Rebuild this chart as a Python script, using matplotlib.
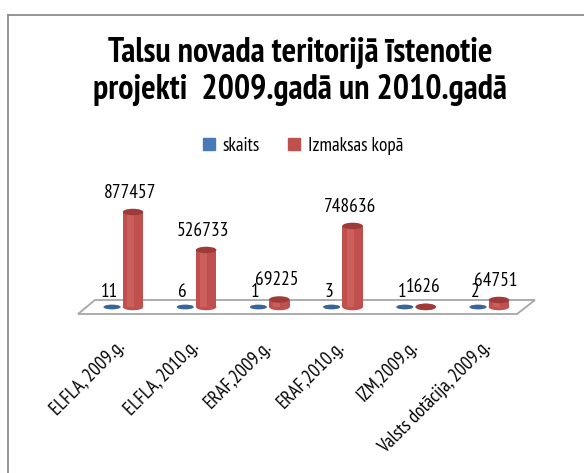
import matplotlib
matplotlib.use("Agg")
import matplotlib.pyplot as plt
from matplotlib.patches import Ellipse, Polygon
from matplotlib.lines import Line2D
from matplotlib.textpath import TextPath
from matplotlib.font_manager import FontProperties

FAM = ['PT Sans Narrow', 'DejaVu Sans']
plt.rcParams['font.family'] = FAM

categories = ["ELFLA, 2009.g.", "ELFLA, 2010.g.", "ERAF,2009.g.", "ERAF,2010.g.",
              "IZM,2009.g.", "Valsts dotācija, 2009.g."]
skaits = [11, 6, 1, 3, 1, 2]
izmaksas = [877457, 526733, 69225, 748636, 1626, 64751]
series_names = ["skaits", "Izmaksas kopā"]
title = "Talsu novada teritorijā īstenotie\nprojekti  2009.gadā un 2010.gadā"

W, H, DPI = 584, 473, 100


def fit_size(text, target_px, weight='normal'):
    fp = FontProperties(family=FAM, weight=weight, size=100)
    w = TextPath((0, 0), text, prop=fp).get_extents().width
    return 100 * target_px * 72 / DPI / w


title_fs = fit_size("Talsu novada teritorijā īstenotie", 382, 'bold')
legend_fs = fit_size("Izmaksas kopā", 93)
label_fs = fit_size("877457", 50)
tick_fs = fit_size("Valsts dotācija, 2009.g.", 150)

fig = plt.figure(figsize=(W / DPI, H / DPI), dpi=DPI)

px_per_unit_x = 73.2
x0_px = 122.5
ax_left_px = x0_px - px_per_unit_x * 1.0
ax_right_px = x0_px + px_per_unit_x * 6.0
base_px = 307.0
px_per_val = 95.0 / 877457.0
ax_bottom_px = 330.0
ax_top_px = 180.0
ymin = -(ax_bottom_px - base_px) / px_per_val
ymax = (base_px - ax_top_px) / px_per_val

ax = fig.add_axes([ax_left_px / W, 1 - ax_bottom_px / H,
                   (ax_right_px - ax_left_px) / W, (ax_bottom_px - ax_top_px) / H])
ax.set_xlim(-1, 6)
ax.set_ylim(ymin, ymax)
for s in ax.spines.values():
    s.set_visible(False)
ax.set_yticks([])
ax.patch.set_alpha(0)


def vpx(p):
    return p / px_per_val


floor = Polygon([(-0.608, vpx(-7)), (5.39, vpx(-7)), (5.635, vpx(7)), (-0.376, vpx(7))],
                closed=True, facecolor='white', edgecolor='#a6a6a6', linewidth=1.3, zorder=1)
ax.add_patch(floor)

off = 0.143
blue, blue_dark = '#4a7ab5', '#3b6597'
red, red_dark, red_light = '#c0504d', '#9e3b39', '#d46a67'
bw = 0.23
rw = 0.28
cap_h_r = vpx(6.5)
cap_h_b = vpx(4.5)

xs = list(range(len(categories)))
for i, (s, v) in enumerate(zip(skaits, izmaksas)):
    xb = xs[i] - off
    xr = xs[i] + off
    ax.bar(xb, s, width=bw, color=blue, zorder=3)
    ax.add_patch(Ellipse((xb, 0), bw, cap_h_b, facecolor=blue, edgecolor='none', zorder=3))
    ax.add_patch(Ellipse((xb, s), bw, cap_h_b, facecolor=blue_dark, edgecolor='none', zorder=4))
    ax.add_patch(Ellipse((xr, 0), rw, cap_h_r, facecolor=red, edgecolor='none', zorder=3))
    ax.bar(xr, v, width=rw, color=red, zorder=3)
    ax.bar(xr - rw * 0.12, v, width=rw * 0.35, color=red_light, alpha=0.6, zorder=3.5)
    ax.add_patch(Ellipse((xr, v), rw, cap_h_r, facecolor=red_dark, edgecolor='none', zorder=4))
    ax.annotate(str(s), (xb, 0), xytext=(-2, 11), textcoords='offset points',
                ha='center', va='center', fontsize=label_fs, zorder=6)
    ax.annotate(str(v), (xr, v), xytext=(-2, 14), textcoords='offset points',
                ha='center', va='center', fontsize=label_fs, zorder=6)

ax.set_xticks(xs)
ax.set_xticklabels(categories, rotation=45, ha='right', va='center',
                   rotation_mode='anchor', fontsize=tick_fs)
ax.tick_params(axis='x', length=0, pad=10)

fig.add_artist(Line2D([8 / W, 8 / W], [0, 1 - 15 / H], color='#8c8c8c', lw=1.3))
fig.add_artist(Line2D([8 / W, 1], [1 - 15 / H, 1 - 15 / H], color='#8c8c8c', lw=1.3))

fig.text(300 / W, 1 - 37 / H, title, ha='center', va='top', fontsize=title_fs,
         fontweight='bold', linespacing=1.22)

handles = [plt.Rectangle((0, 0), 1, 1, color=blue), plt.Rectangle((0, 0), 1, 1, color=red)]
fig.legend(handles, series_names, loc='center', bbox_to_anchor=(303 / W, 1 - 146 / H),
           ncol=2, frameon=False, fontsize=legend_fs, handlelength=0.6, handleheight=0.6,
           handletextpad=0.4, columnspacing=1.5)

fig.savefig("out.png", dpi=DPI)
